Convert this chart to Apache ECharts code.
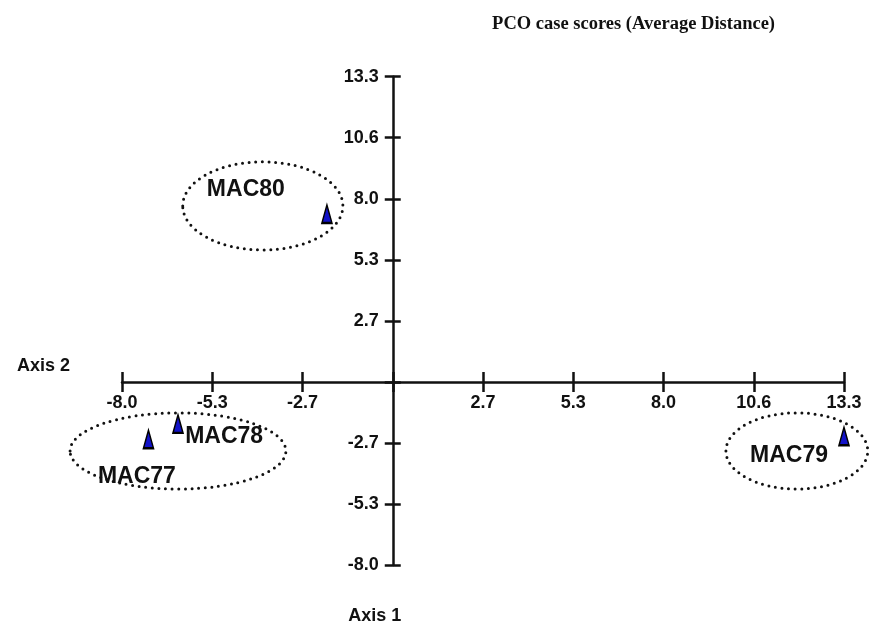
<!DOCTYPE html>
<html>
<head>
<meta charset="utf-8">
<script src="https://cdn.jsdelivr.net/npm/echarts@6/dist/echarts.min.js"></script>
<style>
  html, body { margin: 0; padding: 0; background: #fff; }
  #chart { width: 869px; height: 631px; }
</style>
</head>
<body>
<div id="chart"></div>
<script>
// ---- data ----
const titleText = 'PCO case scores (Average Distance)';
const horizontalAxisName = 'Axis 2';
const verticalAxisName = 'Axis 1';
const tickStep = 2.66;
const axisMin = -7.98;
const axisMax = 13.3;

const caseNames = ['MAC77', 'MAC78', 'MAC79', 'MAC80'];
const caseX = [-7.2, -6.33, 13.3, -1.94];
const caseY = [-2.5, -1.83, -2.37, 7.32];

// group annotations (data units)
const groupLabels = ['MAC80', 'MAC78', 'MAC77', 'MAC79'];
const groupLabelX = [-4.33, -4.97, -7.54, 11.68];
const groupLabelY = [8.37, -2.40, -4.14, -3.22];

const ellipseCX = [-3.83, -6.33, 11.91];
const ellipseCY = [7.67, -3.01, -3.01];
const ellipseRX = [2.36, 3.18, 2.09];
const ellipseRY = [1.92, 1.66, 1.66];

// ---- chart ----
const W = 869, H = 631;
const GRID = { left: 122, right: 25, top: 76.7, bottom: 66 };
const FONT = "'Liberation Sans', Arial, sans-serif";
const INK = '#111';
const fmt = v => Math.abs(v) < 1e-6 ? '' : v.toFixed(1);

// place the axes through the origin (axes cross at value 0)
const gridW = W - GRID.left - GRID.right;
const gridH = H - GRID.top - GRID.bottom;
const zeroFrac = (0 - axisMin) / (axisMax - axisMin);
const xAxisOffset = -zeroFrac * gridH;   // move bottom axis up to y = 0
const yAxisOffset = -zeroFrac * gridW;   // move left axis right to x = 0

const chart = echarts.init(document.getElementById('chart'), null, { renderer: 'canvas' });

function baseAxis(extra) {
  return Object.assign({
    type: 'value',
    min: axisMin,
    max: axisMax,
    interval: tickStep,
    splitLine: { show: false },
    axisLine: { show: true, onZero: false, lineStyle: { color: INK, width: 2.5 } },
  }, extra);
}

const option = {
  animation: false,
  backgroundColor: '#fff',
  title: {
    text: titleText,
    right: 89, top: 10,
    textStyle: { fontFamily: "'Liberation Serif', 'Times New Roman', serif", fontWeight: 'bold', fontSize: 18.5, color: INK }
  },
  grid: GRID,
  xAxis: [
    baseAxis({
      position: 'bottom',
      offset: xAxisOffset,
      name: horizontalAxisName,
      nameLocation: 'start',
      nameGap: 52,
      nameTextStyle: { fontFamily: FONT, fontWeight: 'bold', fontSize: 18, color: INK, verticalAlign: 'bottom', lineHeight: 32 },
      axisTick: { show: true, length: 10, lineStyle: { color: INK, width: 2.5 } },
      axisLabel: { show: true, margin: 12, formatter: fmt, fontFamily: FONT, fontWeight: 'bold', fontSize: 18, color: INK, showMinLabel: true, showMaxLabel: true }
    }),
    baseAxis({
      position: 'bottom',
      offset: xAxisOffset,
      axisLine: { show: false, onZero: false },
      axisTick: { show: true, inside: true, length: 10, lineStyle: { color: INK, width: 2.5 } },
      axisLabel: { show: false }
    })
  ],
  yAxis: [
    baseAxis({
      position: 'left',
      offset: yAxisOffset,
      name: verticalAxisName,
      nameLocation: 'start',
      nameGap: 42,
      nameTextStyle: { fontFamily: FONT, fontWeight: 'bold', fontSize: 18, color: INK, padding: [0, 36, 0, 0] },
      axisTick: { show: true, length: 8, lineStyle: { color: INK, width: 2.5 } },
      axisLabel: { show: true, margin: 14, formatter: fmt, fontFamily: FONT, fontWeight: 'bold', fontSize: 18, color: INK, showMinLabel: true, showMaxLabel: true }
    }),
    baseAxis({
      position: 'left',
      offset: yAxisOffset,
      axisLine: { show: false, onZero: false },
      axisTick: { show: true, inside: true, length: 8, lineStyle: { color: INK, width: 2.5 } },
      axisLabel: { show: false }
    })
  ],
  series: [
    {
      type: 'custom',
      name: 'groups',
      clip: false,
      silent: true,
      data: ellipseCX.map((cx, i) => [cx, ellipseCY[i], ellipseRX[i], ellipseRY[i]]),
      renderItem: function (params, api) {
        const c = api.coord([api.value(0), api.value(1)]);
        const s = api.size([api.value(2), api.value(3)]);
        return {
          type: 'ellipse',
          shape: { cx: c[0], cy: c[1], rx: s[0], ry: s[1] },
          style: { fill: null, stroke: INK, lineWidth: 3, lineDash: [0, 6.6], lineCap: 'round' }
        };
      }
    },
    {
      type: 'custom',
      name: 'groupLabels',
      clip: false,
      silent: true,
      data: groupLabelX.map((x, i) => [x, groupLabelY[i], groupLabels[i]]),
      renderItem: function (params, api) {
        const c = api.coord([api.value(0), api.value(1)]);
        return {
          type: 'text',
          x: c[0], y: c[1],
          style: {
            text: groupLabels[params.dataIndex],
            fill: INK,
            font: "bold 23px 'Liberation Sans', Arial, sans-serif",
            align: 'center',
            verticalAlign: 'middle'
          }
        };
      }
    },
    {
      type: 'scatter',
      name: 'cases',
      clip: false,
      xAxisIndex: 0,
      yAxisIndex: 0,
      symbol: 'triangle',
      symbolSize: [10, 18],
      itemStyle: { color: '#1212c8', borderColor: '#000', borderWidth: 1.8, opacity: 1 },
      data: caseX.map((x, i) => ({ name: caseNames[i], value: [x, caseY[i]] }))
    }
  ]
};

chart.setOption(option);
</script>
</body>
</html>
